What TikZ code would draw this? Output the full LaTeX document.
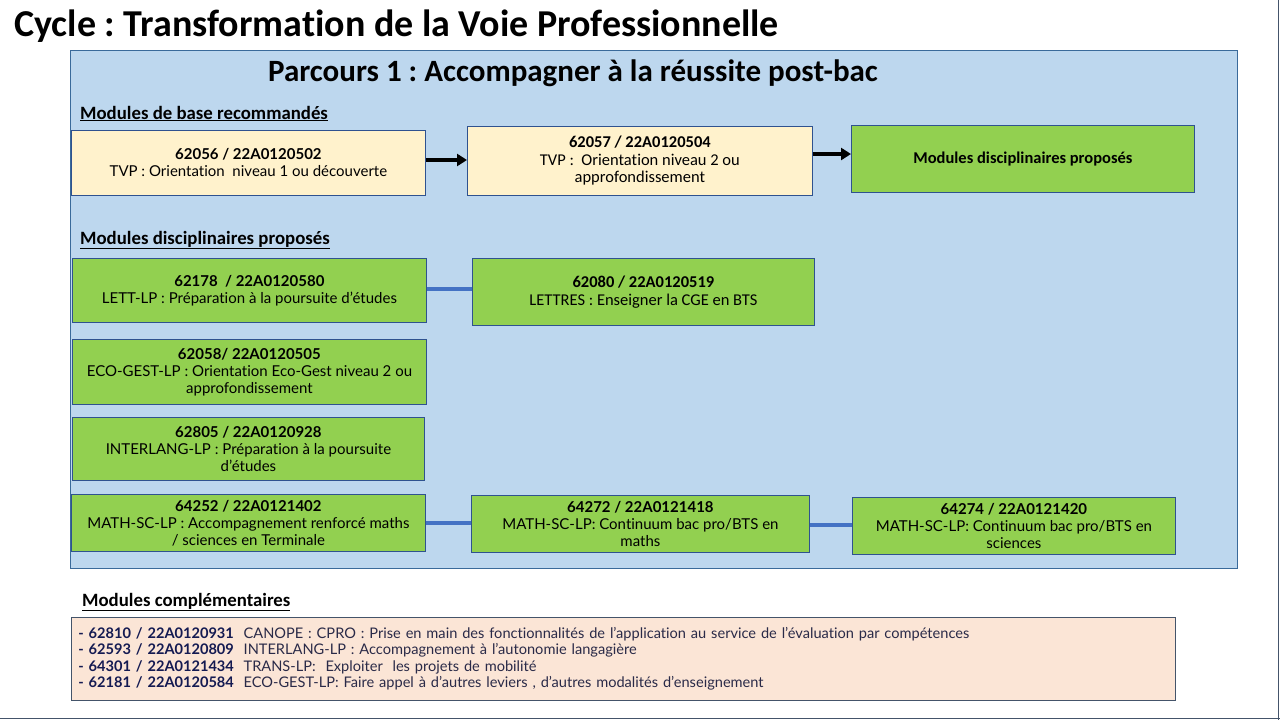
\documentclass[tikz,border=0pt]{standalone}
\usepackage{fontspec}
\setmainfont[Ligatures=NoCommon]{Carlito}
\newfontfamily\boxfont[Ligatures=NoCommon]{Lato}
\usetikzlibrary{arrows.meta}
\frenchspacing
\definecolor{panel}{RGB}{189,215,238}
\definecolor{panelline}{RGB}{58,106,154}
\definecolor{boxline}{RGB}{47,82,143}
\definecolor{cream}{RGB}{255,242,204}
\definecolor{leaf}{RGB}{146,208,80}
\definecolor{peach}{RGB}{251,229,214}
\definecolor{peachline}{RGB}{68,84,106}
\definecolor{linkblue}{RGB}{68,114,196}
\definecolor{codenavy}{RGB}{20,26,82}
\definecolor{listtext}{RGB}{42,42,72}
\newcommand{\modcode}[1]{{\bfseries\color{codenavy}#1}}

\begin{document}
\begin{tikzpicture}[x=1pt, y=-1pt,
    rect/.style={draw=boxline, line width=0.8pt, rectangle, anchor=north west, inner sep=0pt, align=center},
    base/.style={rect, fill=cream},
    disc/.style={rect, fill=leaf},
    body/.style={font=\boxfont\fontsize{15}{17}\selectfont},
    narrow/.style={font=\fontsize{16.5}{17.5}\selectfont},
    head/.style={anchor=base west, inner sep=0pt, font=\bfseries\fontsize{18.8}{20}\selectfont},
    link/.style={draw=linkblue, line width=3.5pt},
    arrow/.style={-{Triangle[length=10pt,width=12pt]}, line width=3.5pt}]
    \useasboundingbox (0,0) rectangle (1280,720);

    % Title and panel
    \node[anchor=base west, inner sep=0pt, font=\bfseries\fontsize{38}{40}\selectfont] (title) at (14,36) {Cycle : Transformation de la Voie Professionnelle};
    \node[rect, draw=panelline, fill=panel, minimum width=1167pt, minimum height=518pt] (panel) at (70,50) {};
    \node[anchor=base, inner sep=0pt, font=\bfseries\fontsize{31}{34}\selectfont] (parcours) at (573,81) {Parcours 1 : Accompagner à la réussite post-bac};

    % Modules de base
    \node[head] (head-base) at (80,119) {\underline{Modules de base recommandés}};
    \node[base, body, minimum width=354pt, minimum height=65pt] (base-1) at (71,130) {\textbf{62056 / 22A0120502}\\TVP : Orientation\ \ niveau 1 ou découverte};
    \node[base, narrow, minimum width=345pt, minimum height=69pt] (base-2) at (467,126) {\textbf{62057 / 22A0120504}\\TVP :\ \ Orientation niveau 2 ou\\approfondissement};
    \node[disc, narrow, minimum width=343pt, minimum height=67pt] (base-3) at (851,125) {\textbf{Modules disciplinaires proposés}};

    \draw[arrow] (base-1.east |- 0,160) -- (base-2.west |- 0,160);
    \draw[arrow] (base-2.east |- 0,154) -- (base-3.west |- 0,154);

    % Modules disciplinaires
    \node[head] (head-disc) at (80,244) {\underline{Modules disciplinaires proposés}};
    \node[disc, body, minimum width=354pt, minimum height=64pt] (disc-1-1) at (72,258) {\textbf{62178\ \ / 22A0120580}\\LETT-LP : Préparation à la poursuite d’études};
    \node[disc, narrow, minimum width=342pt, minimum height=67pt] (disc-1-2) at (472,258) {\textbf{62080 / 22A0120519}\\LETTRES : Enseigner la CGE en BTS};

    \node[disc, body, minimum width=354pt, minimum height=65pt] (disc-2-1) at (72,339) {\textbf{62058/\ 22A0120505}\\ECO-GEST-LP : Orientation Eco-Gest niveau 2 ou\\approfondissement};
    \node[disc, body, minimum width=352pt, minimum height=63pt] (disc-3-1) at (72,417) {\textbf{62805 / 22A0120928}\\INTERLANG-LP : Préparation à la poursuite\\d’études};

    \node[disc, body, minimum width=354pt, minimum height=57pt] (disc-4-1) at (71,494) {\textbf{64252 / 22A0121402}\\MATH-SC-LP : Accompagnement renforcé maths\\/ sciences en Terminale};
    \node[disc, body, minimum width=338pt, minimum height=57pt] (disc-4-2) at (471,495) {\textbf{64272 / 22A0121418}\\MATH-SC-LP: Continuum bac pro/BTS en\\maths};
    \node[disc, body, minimum width=323pt, minimum height=57pt] (disc-4-3) at (852,497) {\textbf{64274 / 22A0121420}\\MATH-SC-LP:\ Continuum bac pro/BTS en\\sciences};

    \draw[link] (disc-1-1.east |- 0,289) -- (disc-1-2.west |- 0,289);
    \draw[link] (disc-4-1.east |- 0,523) -- (disc-4-2.west |- 0,523);
    \draw[link] (disc-4-2.east |- 0,525) -- (disc-4-3.west |- 0,525);

    % Modules complementaires
    \node[head] (head-comp) at (82,606) {\underline{Modules complémentaires}};
    \node[rect, draw=peachline, fill=peach, minimum width=1104pt, minimum height=83pt, inner xsep=7pt, text width=1090pt, align=left, text=listtext, font=\boxfont\fontsize{14.6}{16.5}\selectfont] (comp) at (71,617) {%
        \modcode{- 62810 / 22A0120931}\ \ CANOPE : CPRO : Prise en main des fonctionnalités de l’application au service de l’évaluation par compétences\\
        \modcode{- 62593 / 22A0120809}\ \ INTERLANG-LP : Accompagnement à l’autonomie langagière\\
        \modcode{- 64301 / 22A0121434}\ \ TRANS-LP:\ \ Exploiter\ \ les projets de mobilité\\
        \modcode{- 62181 / 22A0120584}\ \ ECO-GEST-LP: Faire appel à d’autres leviers , d’autres modalités d’enseignement\\[4pt]};

    % Slide frame
    \draw[peachline, line width=1pt] (0,718.5) -- (1280,718.5);
    \draw[peachline, line width=1pt] (1278.5,0) -- (1278.5,720);
\end{tikzpicture}
\end{document}
